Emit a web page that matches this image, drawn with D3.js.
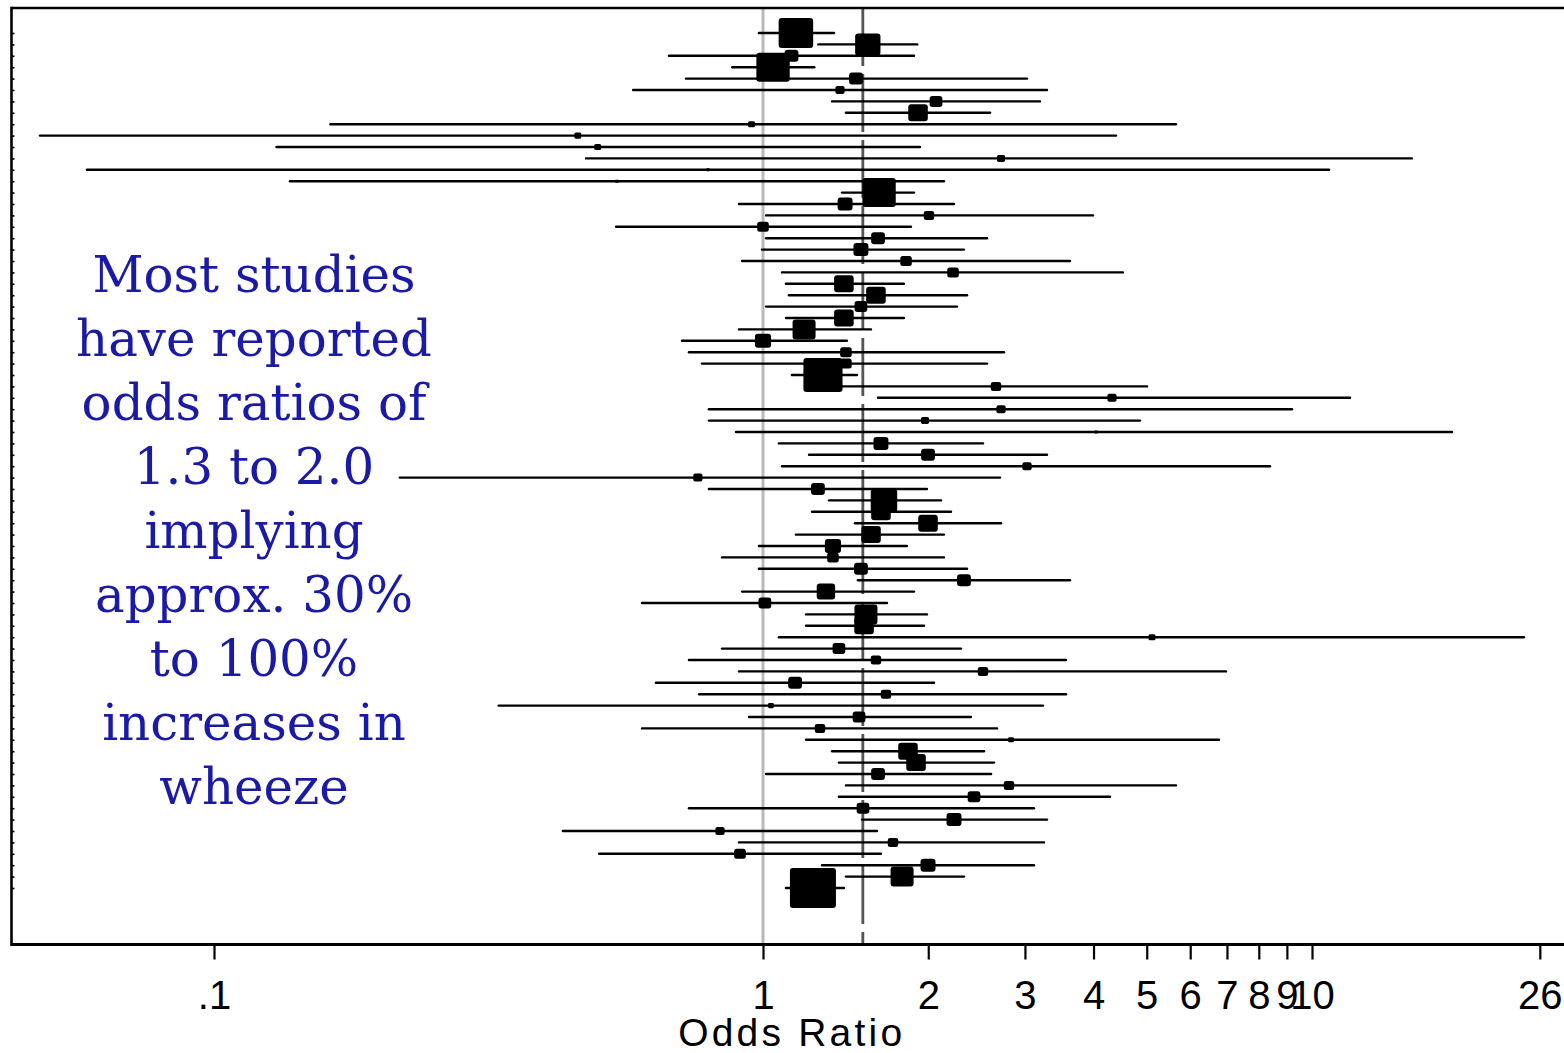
<!DOCTYPE html>
<html>
<head>
<meta charset="utf-8">
<script src="https://cdn.jsdelivr.net/npm/d3@7"></script>
<style>
  html, body { margin: 0; padding: 0; background: #fff; }
  svg { display: block; }
</style>
</head>
<body>
<svg id="chart" width="1564" height="1053"></svg>
<script>
// ---------------- DATA ----------------
const studyIds = d3.range(1, 77);           // 76 studies, top to bottom (last = pooled)
const oddsRatios = [
  1.148, 1.552, 1.127, 1.043, 1.477, 1.381, 2.066, 1.916, 0.953, 0.460,
  0.500, 2.714, 0.794, 0.542, 1.627, 1.411, 2.006, 1.000, 1.620, 1.508,
  1.822, 2.219, 1.404, 1.606, 1.508, 1.404, 1.188, 1.000, 1.416, 1.416,
  1.286, 2.657, 4.322, 2.714, 1.973, 4.043, 1.640, 1.998, 3.026, 0.761,
  1.259, 1.661, 1.640, 1.998, 1.573, 1.341, 1.341, 1.508, 2.323, 1.302,
  1.008, 1.540, 1.528, 5.112, 1.375, 1.606, 2.516, 1.144, 1.675, 1.034,
  1.496, 1.270, 2.830, 1.837, 1.900, 1.620, 2.806, 2.423, 1.521, 2.228,
  0.835, 1.725, 0.908, 1.998, 1.792, 1.233
];
const ciLower = [
  0.983, 1.261, 0.674, 0.879, 0.724, 0.580, 1.336, 1.416, 0.163, 0.0482,
  0.130, 0.476, 0.0587, 0.1375, 1.393, 0.904, 1.013, 0.540, 1.013, 0.996,
  0.916, 1.083, 1.101, 1.115, 1.013, 1.101, 0.904, 0.712, 0.733, 0.774,
  1.129, 1.393, 1.620, 0.797, 0.797, 0.893, 1.069, 1.213, 1.083, 0.218,
  0.797, 1.319, 1.228, 1.471, 1.148, 0.983, 0.842, 0.983, 1.489, 0.916,
  0.602, 1.198, 1.198, 1.069, 0.842, 0.733, 0.904, 0.638, 0.765, 0.330,
  0.943, 0.602, 1.198, 1.336, 1.375, 1.013, 1.416, 1.375, 0.733, 1.515,
  0.432, 0.904, 0.503, 1.281, 1.416, 1.101
];
const ciUpper = [
  1.347, 1.910, 1.884, 1.240, 3.026, 3.291, 3.195, 2.592, 5.653, 4.395,
  1.932, 15.2, 10.74, 2.136, 1.884, 2.228, 3.992, 1.860, 2.559, 2.323,
  3.624, 4.525, 1.806, 2.353, 2.256, 1.806, 1.573, 1.422, 2.748, 2.559,
  1.483, 5.006, 11.73, 9.195, 4.861, 17.99, 2.516, 3.291, 8.386, 2.702,
  1.989, 2.110, 2.200, 2.714, 2.136, 1.829, 2.136, 2.353, 3.624, 1.884,
  1.682, 1.989, 1.965, 24.33, 2.294, 3.564, 6.973, 2.049, 3.564, 3.236,
  2.392, 2.669, 6.770, 2.527, 2.635, 2.603, 5.653, 4.286, 3.116, 3.291,
  1.613, 3.250, 1.640, 3.116, 2.323, 1.404
];
const weights = [
  56.3, 30.3, 9.0, 52.6, 9.0, 4.0, 7.6, 18.1, 2.3, 2.3,
  2.3, 3.1, 0.6, 0.6, 52.6, 10.6, 5.1, 6.3, 9.0, 10.6,
  6.3, 6.3, 18.1, 18.1, 7.6, 18.1, 25.0, 12.3, 6.3, 6.3,
  72.3, 5.1, 4.0, 4.0, 3.1, 0.6, 10.6, 9.0, 4.0, 4.0,
  9.0, 33.1, 18.1, 18.1, 18.1, 12.3, 6.3, 9.0, 9.0, 16.0,
  7.6, 25.0, 18.1, 2.3, 7.6, 5.1, 5.1, 9.0, 5.1, 1.6,
  7.6, 5.1, 1.6, 18.1, 18.1, 9.0, 5.1, 7.6, 7.6, 10.6,
  4.0, 5.1, 6.3, 10.6, 25.0, 100.0
];
const nullValue = 1;
const referenceOR = 1.52;
const tickValues = [0.1, 1, 2, 3, 4, 5, 6, 7, 8, 9, 10, 26];
const tickLabels = [".1", "1", "2", "3", "4", "5", "6", "7", "8", "9", "10", "26"];
const axisTitle = "Odds Ratio";
const noteLines = [
  "Most studies", "have reported", "odds ratios of", "1.3 to 2.0",
  "implying", "approx. 30%", "to 100%", "increases in", "wheeze"
];

// ---------------- LAYOUT ----------------
const svg = d3.select("#chart");
const plotLeft = 11.5, plotRight = 1572, plotTop = 8, plotBottom = 944.5;

const x = d3.scaleLog().domain([0.1, 10]).range([214, 1312]);
const y = d3.scaleLinear().domain([1, 76]).range([33, 888]);
const markerH = d3.scaleSqrt().domain([0, 100]).range([0, 40]);

const rows = studyIds.map((id, i) => ({
  id, or: oddsRatios[i], lo: ciLower[i], hi: ciUpper[i], w: weights[i]
}));

// reference lines
svg.append("line")
  .attr("x1", x(nullValue)).attr("x2", x(nullValue))
  .attr("y1", plotTop).attr("y2", plotBottom)
  .attr("stroke", "#b9b9b9").attr("stroke-width", 3);

svg.append("line")
  .attr("x1", x(referenceOR)).attr("x2", x(referenceOR))
  .attr("y1", plotTop).attr("y2", plotBottom)
  .attr("stroke", "#555").attr("stroke-width", 2.8)
  .attr("stroke-dasharray", "58 8");

// confidence intervals
svg.append("g").selectAll("line").data(rows).join("line")
  .attr("x1", d => Math.max(plotLeft, x(d.lo)))
  .attr("x2", d => x(d.hi))
  .attr("y1", d => y(d.id)).attr("y2", d => y(d.id))
  .attr("stroke", "#000").attr("stroke-width", 2.4)
  .attr("stroke-linecap", "round");

// weighted square markers
svg.append("g").selectAll("rect").data(rows).join("rect")
  .each(function(d) {
    const h = Math.max(2.5, markerH(d.w));
    const w = h * 1.15;
    d3.select(this)
      .attr("x", x(d.or) - w / 2).attr("y", y(d.id) - h / 2)
      .attr("width", w).attr("height", h)
      .attr("rx", Math.min(3, h / 4)).attr("ry", Math.min(3, h / 4));
  })
  .attr("fill", "#000");

// left axis with one tick per study
const yAxis = d3.axisRight(y).tickValues(studyIds).tickSize(3).tickFormat("");
const gy = svg.append("g").attr("transform", `translate(${plotLeft},0)`).call(yAxis);
gy.select(".domain").remove();
gy.selectAll(".tick line").attr("stroke", "#000").attr("stroke-width", 1.6);

// frame
svg.append("line").attr("x1", plotLeft).attr("x2", plotRight)
  .attr("y1", plotTop).attr("y2", plotTop)
  .attr("stroke", "#000").attr("stroke-width", 2.6);
svg.append("line").attr("x1", plotLeft).attr("x2", plotLeft)
  .attr("y1", plotTop - 1.3).attr("y2", plotBottom + 1.5)
  .attr("stroke", "#000").attr("stroke-width", 2.6);

// bottom axis
const xAxis = d3.axisBottom(x).tickValues(tickValues)
  .tickFormat((d, i) => tickLabels[i]).tickSize(15).tickPadding(21);
const gx = svg.append("g").attr("transform", `translate(0,${plotBottom})`).call(xAxis);
gx.select(".domain").remove();
gx.selectAll(".tick line").attr("stroke", "#000").attr("stroke-width", 2.2);
gx.selectAll(".tick text")
  .attr("fill", "#000")
  .style("font-family", "'Liberation Sans', Arial, sans-serif")
  .style("font-size", "40px");
svg.append("line").attr("x1", plotLeft).attr("x2", plotRight)
  .attr("y1", plotBottom).attr("y2", plotBottom)
  .attr("stroke", "#000").attr("stroke-width", 3.2);

svg.append("text")
  .attr("x", (plotLeft + plotRight) / 2).attr("y", 1046)
  .attr("text-anchor", "middle")
  .style("font-family", "'Liberation Sans', Arial, sans-serif")
  .style("font-size", "39px").style("letter-spacing", "3.2px")
  .attr("fill", "#000")
  .text(axisTitle);

// annotation
const note = svg.append("g");
const noteTexts = note.selectAll("text").data(noteLines).join("text")
  .attr("x", 254).attr("y", (d, i) => 292 + i * 64)
  .attr("text-anchor", "middle")
  .style("font-family", "'DejaVu Serif', serif")
  .style("font-size", "44px")
  .attr("fill", "#1a1aa6")
  .text(d => d);
// fit width of the widest line to the reference
const targetW = 356;
const measured = d3.max(noteTexts.nodes(), n => n.getComputedTextLength());
const fs = 44 * targetW / measured;
noteTexts.style("font-size", fs + "px");
</script>
</body>
</html>
